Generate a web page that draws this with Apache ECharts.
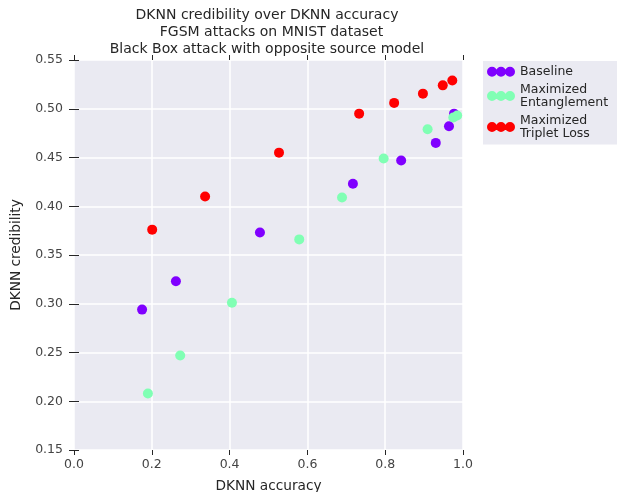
<!DOCTYPE html>
<html>
<head>
<meta charset="utf-8">
<script src="https://cdn.jsdelivr.net/npm/echarts@6/dist/echarts.min.js"></script>
<style>html,body{margin:0;padding:0;background:#fff;}#c{width:617px;height:492px;}</style>
</head>
<body>
<div id="c"></div>
<script>
// Data
const seriesNames = ['Baseline', 'Maximized Entanglement', 'Maximized Triplet Loss'];
const baselineX = [0.175, 0.262, 0.478, 0.717, 0.841, 0.930, 0.964, 0.977];
const baselineY = [0.294, 0.323, 0.373, 0.423, 0.447, 0.465, 0.482, 0.495];
const entanglementX = [0.190, 0.273, 0.406, 0.579, 0.689, 0.796, 0.909, 0.975, 0.985];
const entanglementY = [0.208, 0.247, 0.301, 0.366, 0.409, 0.449, 0.479, 0.491, 0.493];
const tripletX = [0.201, 0.337, 0.527, 0.733, 0.823, 0.897, 0.948, 0.9725];
const tripletY = [0.376, 0.410, 0.455, 0.495, 0.506, 0.5155, 0.524, 0.529];
const xTicks = [0.0, 0.2, 0.4, 0.6, 0.8, 1.0];
const yTicks = [0.15, 0.20, 0.25, 0.30, 0.35, 0.40, 0.45, 0.50, 0.55];

const colors = ['#8000FF', '#80FFB4', '#FF0000'];
const FONT = 'DejaVu Sans';
const zip = (xs, ys) => xs.map((x, i) => [x, ys[i]]);
const threeDots = 'path://M0,5a5,5 0 1,0 10,0a5,5 0 1,0 -10,0M9,5a5,5 0 1,0 10,0a5,5 0 1,0 -10,0M18,5a5,5 0 1,0 10,0a5,5 0 1,0 -10,0';

const chart = echarts.init(document.getElementById('c'), null, {renderer: 'canvas'});
const tickStyle = {show: true, inside: false, length: 5, lineStyle: {color: '#262626', width: 1}};
const baseX = {
  type: 'value', min: 0, max: 1, interval: 0.2,
  axisLine: {show: false}, axisTick: tickStyle
};
const baseY = {
  type: 'value', min: 0.15, max: 0.55, interval: 0.05,
  axisLine: {show: false}, axisTick: tickStyle
};
chart.setOption({
  animation: false,
  textStyle: {fontFamily: FONT},
  color: colors,
  title: {
    text: 'DKNN credibility over DKNN accuracy\n  FGSM attacks on MNIST dataset\nBlack Box attack with opposite source model',
    left: 262, top: 2, textAlign: 'center',
    textStyle: {fontFamily: FONT, fontSize: 14, fontWeight: 'normal', color: '#262626', lineHeight: 17}
  },
  grid: {left: 74, right: 154, top: 60, bottom: 42, show: true, backgroundColor: '#EAEAF2', borderWidth: 0, outerBoundsMode: 'none', containLabel: false},
  legend: {
    orient: 'vertical', left: 483, top: 61,
    backgroundColor: '#EAEAF2', padding: [4, 10, 4, 4], itemGap: 4,
    itemWidth: 28, itemHeight: 10, icon: threeDots,
    formatter: name => name.replace(' ', '\n'),
    textStyle: {fontFamily: FONT, fontSize: 12.5, color: '#262626', lineHeight: 13.5}
  },
  xAxis: [
    Object.assign({}, baseX, {
      position: 'bottom',
      name: 'DKNN accuracy', nameLocation: 'middle', nameGap: 29,
      nameTextStyle: {fontFamily: FONT, fontSize: 13.7, color: '#262626'},
      axisLabel: {margin: 8, fontSize: 12.5, color: '#444', fontFamily: FONT, formatter: v => v.toFixed(1)},
      splitLine: {show: true, lineStyle: {color: '#ffffff', width: 1.5}}
    }),
    Object.assign({}, baseX, {position: 'top', axisLabel: {show: false}, splitLine: {show: false}})
  ],
  yAxis: [
    Object.assign({}, baseY, {
      position: 'left',
      name: 'DKNN credibility', nameLocation: 'middle', nameGap: 51,
      nameTextStyle: {fontFamily: FONT, fontSize: 13.7, color: '#262626'},
      axisLabel: {margin: 11, fontSize: 12.5, color: '#444', fontFamily: FONT, formatter: v => v.toFixed(2)},
      splitLine: {show: true, lineStyle: {color: '#ffffff', width: 1.5}}
    }),
    Object.assign({}, baseY, {position: 'right', axisLabel: {show: false}, splitLine: {show: false}})
  ],
  series: [
    {name: seriesNames[0], type: 'scatter', symbolSize: 10, itemStyle: {opacity: 1}, data: zip(baselineX, baselineY)},
    {name: seriesNames[1], type: 'scatter', symbolSize: 10, itemStyle: {opacity: 1}, data: zip(entanglementX, entanglementY)},
    {name: seriesNames[2], type: 'scatter', symbolSize: 10, itemStyle: {opacity: 1}, data: zip(tripletX, tripletY)}
  ]
});
</script>
</body>
</html>
